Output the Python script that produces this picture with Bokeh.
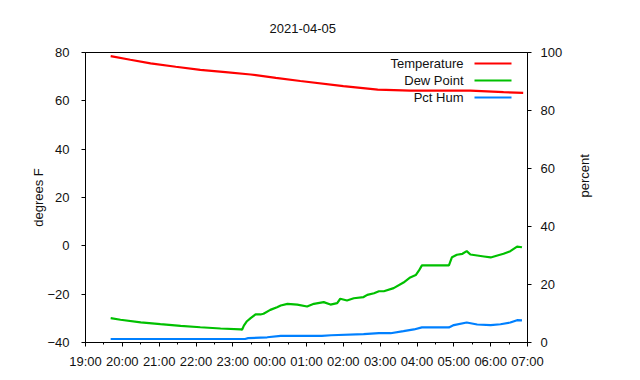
import math
import pandas as pd
from bokeh.plotting import figure
from bokeh.models import (Range1d, LinearAxis, FixedTicker, DatetimeTickFormatter,
                          Label, BoxAnnotation, ColumnDataSource)
from bokeh.embed import file_html
from bokeh.resources import INLINE

# ---------------- data ----------------
title_text = "2021-04-05"
x_ticks = ["19:00", "20:00", "21:00", "22:00", "23:00", "00:00", "01:00",
           "02:00", "03:00", "04:00", "05:00", "06:00", "07:00"]
y_ticks = [-40, -20, 0, 20, 40, 60, 80]
pct_ticks = [0, 20, 40, 60, 80, 100]
left_label = "degrees F"
right_label = "percent"

temp_times = ["19:41", "20:13", "20:46", "21:27", "22:07", "22:48", "23:29", "00:10",
              "00:50", "02:00", "02:56", "03:49", "05:27", "06:21", "06:53"]
temp_vals = [78.5, 77.0, 75.5, 74.1, 72.8, 71.9, 70.9, 69.5,
             68.2, 66.1, 64.6, 64.2, 64.2, 63.6, 63.3]

dew_times = ["19:41", "19:57", "20:30", "21:02", "21:35", "22:07", "22:40", "23:13",
             "23:15", "23:18", "23:23", "23:29", "23:37", "23:45", "23:50", "00:01",
             "00:12", "00:18", "00:29", "00:45", "01:01", "01:12", "01:28", "01:39",
             "01:50", "01:55", "02:06", "02:17", "02:33", "02:39", "02:50", "02:58",
             "03:06", "03:22", "03:38", "03:49", "03:58", "04:03", "04:08", "04:33",
             "04:52", "04:57", "05:05", "05:14", "05:21", "05:27", "05:38", "05:49",
             "06:00", "06:11", "06:21", "06:32", "06:43", "06:51"]
dew_vals = [-29.9, -30.6, -31.7, -32.4, -33.1, -33.7, -34.2, -34.6,
            -34.7, -33.0, -31.2, -29.9, -28.4, -28.4, -28.1, -26.5,
            -25.4, -24.7, -24.0, -24.3, -25.1, -24.0, -23.3, -24.3,
            -23.7, -21.9, -22.6, -21.7, -21.2, -20.3, -19.6, -18.8,
            -18.8, -17.5, -15.2, -13.1, -12.1, -10.3, -8.1, -8.1,
            -8.1, -4.7, -3.7, -3.3, -2.2, -3.6, -4.0, -4.4,
            -4.8, -4.0, -3.3, -2.2, -0.3, -0.6]

hum_times = ["19:41", "23:20", "23:25", "23:56", "00:18", "01:25", "01:40", "02:33",
             "02:58", "03:17", "03:38", "03:55", "04:08", "04:52", "05:00", "05:21",
             "05:38", "06:00", "06:16", "06:32", "06:43", "06:51"]
hum_vals = [1.2, 1.2, 1.5, 1.8, 2.3, 2.3, 2.5, 2.9,
            3.2, 3.2, 3.9, 4.5, 5.2, 5.2, 6.0, 6.9,
            6.2, 6.0, 6.3, 6.9, 7.7, 7.6]

series_names = ["Temperature", "Dew Point", "Pct Hum"]
series_colors = ["#ff0000", "#00c000", "#0080ff"]


def to_dt(hhmm):
    h = int(hhmm.split(":")[0])
    day = "2021-04-04" if h >= 12 else "2021-04-05"
    return pd.Timestamp(f"{day} {hhmm}")


def to_ms(ts):
    return ts.value // 10**6


FONT = "Liberation Sans"
FS = "13px"
TXT = "#111111"

tick_ts = [to_dt(t) for t in x_ticks]
major_ms = [to_ms(t) for t in tick_ts]
minor_ms = [to_ms(t + pd.Timedelta(minutes=30)) for t in tick_ts[:-1]]

W, H = 632, 372
p = figure(width=W, height=H, x_axis_type="datetime",
           output_backend="svg", toolbar_location=None,
           x_range=Range1d(major_ms[0], major_ms[-1]),
           y_range=Range1d(y_ticks[0], y_ticks[-1]),
           min_border_left=85, min_border_right=W - 527,
           min_border_top=52, min_border_bottom=H - 342)
p.extra_y_ranges = {"pct": Range1d(pct_ticks[0], pct_ticks[-1])}

p.title.text = title_text
p.title.align = "left"
p.title.offset = 184
p.title.text_font = FONT
p.title.text_font_size = FS
p.title.text_font_style = "normal"
p.title.text_color = TXT
p.title.standoff = 40

p.xgrid.visible = False
p.ygrid.visible = False
p.outline_line_color = "black"
p.outline_line_alpha = 1
p.outline_line_width = 1
p.background_fill_color = "white"
p.border_fill_color = "white"

right_axis = LinearAxis(y_range_name="pct", axis_label=right_label)
p.add_layout(right_axis, "right")
try:
    right_axis.axis_label_orientation = math.pi / 2
except Exception:
    pass

p.xaxis.ticker = FixedTicker(ticks=major_ms, minor_ticks=minor_ms)
p.xaxis.formatter = DatetimeTickFormatter(
    milliseconds="%H:%M", seconds="%H:%M", minsec="%H:%M", minutes="%H:%M",
    hourmin="%H:%M", hours="%H:%M", days="%H:%M", months="%H:%M", years="%H:%M")
p.yaxis[0].ticker = FixedTicker(ticks=y_ticks)
p.yaxis[0].axis_label = left_label
right_axis.ticker = FixedTicker(ticks=pct_ticks)

for ax in [p.xaxis[0], p.yaxis[0], right_axis]:
    ax.axis_line_color = "black"
    ax.major_tick_line_color = "black"
    ax.major_tick_in = 0
    ax.major_tick_out = 4
    ax.minor_tick_in = 0
    ax.minor_tick_out = 2
    ax.minor_tick_line_color = "black"
    ax.major_label_text_font = FONT
    ax.major_label_text_font_size = FS
    ax.major_label_text_color = TXT
    ax.axis_label_text_font = FONT
    ax.axis_label_text_font_size = FS
    ax.axis_label_text_font_style = "normal"
    ax.axis_label_text_color = TXT

p.yaxis[0].minor_tick_line_color = None
right_axis.minor_tick_line_color = None
p.xaxis[0].major_label_standoff = 7
p.yaxis[0].major_label_standoff = 12
p.yaxis[0].axis_label_standoff = -2
right_axis.major_label_standoff = 9
right_axis.axis_label_standoff = 19

src_t = ColumnDataSource(dict(x=[to_dt(t) for t in temp_times], y=temp_vals))
src_d = ColumnDataSource(dict(x=[to_dt(t) for t in dew_times], y=dew_vals))
src_h = ColumnDataSource(dict(x=[to_dt(t) for t in hum_times], y=hum_vals))

p.line("x", "y", source=src_t, color=series_colors[0], line_width=2.2)
p.line("x", "y", source=src_d, color=series_colors[1], line_width=2.2)
p.line("x", "y", source=src_h, color=series_colors[2], line_width=2.2,
       y_range_name="pct")

# gnuplot-style key: right-aligned text, sample line to its right
for i, (name, col) in enumerate(zip(series_names, series_colors)):
    yc = 279 - 17 * i
    p.add_layout(Label(x=378, y=yc, x_units="screen", y_units="screen", text=name,
                       text_align="right", text_baseline="middle",
                       text_font=FONT, text_font_size=FS, text_color=TXT))
    p.add_layout(BoxAnnotation(left=389, right=426, bottom=yc - 1, top=yc + 1,
                               left_units="screen", right_units="screen",
                               bottom_units="screen", top_units="screen",
                               fill_color=col, fill_alpha=1, line_alpha=0))

open("out.html", "w").write(file_html(p, INLINE))
